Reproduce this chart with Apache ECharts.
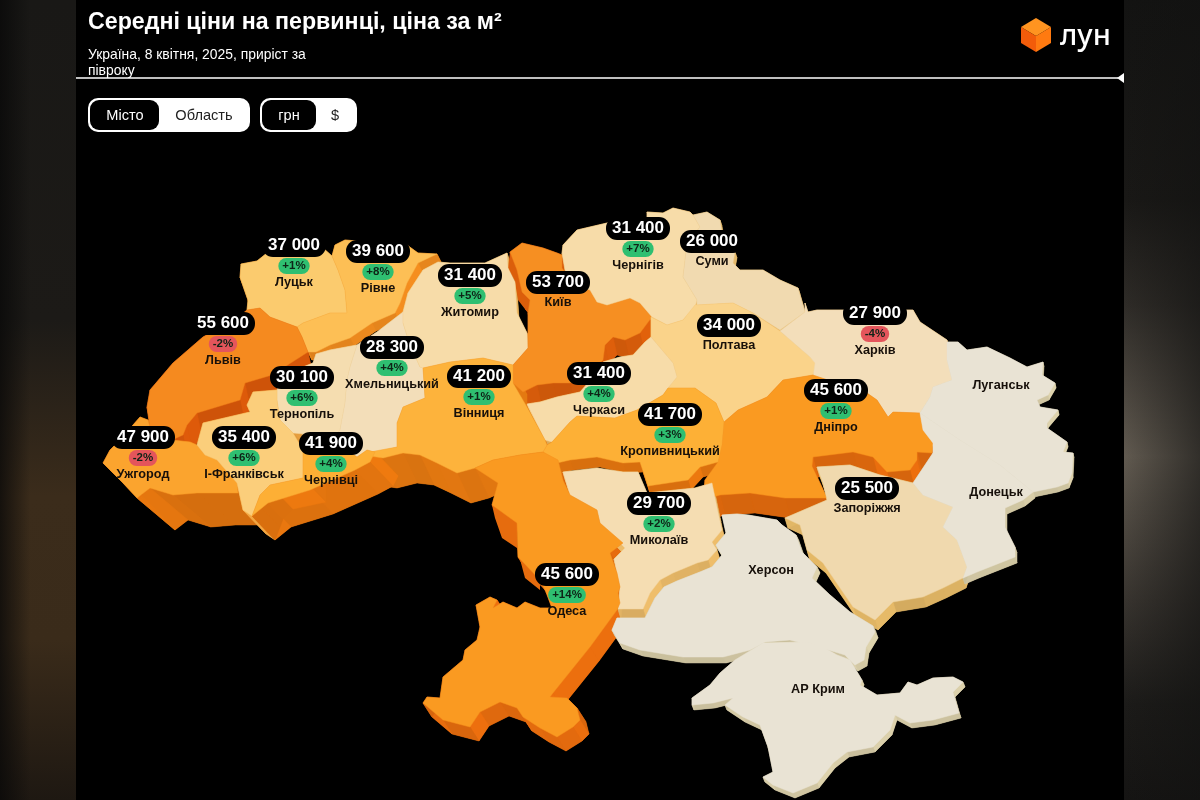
<!DOCTYPE html>
<html>
<head>
<meta charset="utf-8">
<style>html,body{margin:0;padding:0;background:#000}#chart{width:1200px;height:800px}</style>
<script src="https://cdn.jsdelivr.net/npm/echarts@6/dist/echarts.min.js"></script>
</head>
<body>
<div id="chart"></div>
<script>
// дані
const cities = ['Луцьк','Рівне','Львів','Тернопіль','Хмельницький','Житомир','Київ','Чернігів','Суми','Полтава','Харків','Дніпро','Черкаси','Кропивницький','Вінниця','Запоріжжя','Миколаїв','Одеса','Ужгород','І-Франківськ','Чернівці','Луганськ','Донецьк','Херсон','АР Крим'];
const prices = [37000,39600,55600,30100,28300,31400,53700,31400,26000,34000,27900,45600,31400,41700,41200,25500,29700,45600,47900,35400,41900,null,null,null,null];
const changes = [1,8,-2,6,4,5,null,7,null,null,-4,1,4,3,1,null,2,14,-2,6,4,null,null,null,null];

// контури областей, координати картинки
const shapes = {
  'Луцьк': [[241,264],[257,261],[267,253],[323,248],[332,256],[338,270],[345,290],[347,313],[330,313],[303,323],[297,327],[270,317],[260,308],[247,310],[248,300],[240,277]],
  'Рівне': [[335,245],[345,240],[407,245],[418,253],[437,254],[418,263],[407,283],[400,303],[395,313],[372,323],[350,338],[330,345],[316,352],[308,352],[302,337],[297,327],[303,323],[330,313],[347,313],[345,290],[338,270],[332,256]],
  'Львів': [[247,310],[260,308],[270,317],[297,327],[302,337],[308,352],[272,375],[245,383],[240,400],[197,413],[187,425],[183,435],[172,440],[150,428],[147,407],[150,390],[173,363],[203,337],[235,320]],
  'Тернопіль': [[277,390],[283,375],[313,363],[316,354],[330,350],[357,345],[350,367],[347,380],[345,403],[340,430],[335,437],[293,433],[280,420],[277,400]],
  'Хмельницький': [[357,345],[377,332],[403,312],[403,323],[410,345],[420,367],[423,368],[425,398],[403,407],[397,423],[397,447],[375,452],[367,450],[357,457],[340,445],[335,437],[340,430],[345,403],[347,380],[350,367]],
  'Житомир': [[438,262],[423,270],[408,293],[403,312],[403,323],[410,345],[420,367],[423,368],[450,362],[483,358],[513,365],[528,348],[527,333],[517,313],[515,282],[508,268],[507,253],[485,263],[450,263]],
  'Київ': [[510,252],[522,243],[543,248],[557,253],[562,255],[562,268],[575,285],[590,290],[597,302],[607,305],[630,298],[640,303],[652,317],[640,333],[625,340],[613,337],[605,345],[603,360],[585,378],[570,383],[553,383],[537,385],[523,392],[513,383],[513,365],[528,348],[528,313],[530,300],[522,292],[517,270]],
  'Чернігів': [[562,253],[563,245],[577,230],[607,223],[647,218],[647,212],[663,213],[673,208],[690,212],[693,215],[700,227],[687,243],[685,260],[683,277],[697,300],[695,307],[683,320],[667,325],[652,317],[640,303],[630,298],[607,305],[597,302],[590,290],[575,285],[565,270]],
  'Суми': [[693,215],[707,212],[720,220],[722,232],[735,252],[733,263],[740,270],[763,270],[780,280],[798,288],[805,312],[780,330],[753,313],[733,303],[697,305],[697,300],[683,277],[685,260],[687,243],[700,227]],
  'Полтава': [[651,317],[667,325],[683,320],[695,305],[733,303],[753,313],[780,331],[810,357],[817,363],[813,375],[783,380],[767,397],[738,410],[724,422],[716,403],[695,388],[668,388],[677,377],[673,363],[651,337]],
  'Харків': [[805,303],[808,312],[817,310],[913,310],[920,322],[947,340],[947,360],[952,380],[933,387],[930,397],[920,413],[893,412],[888,417],[877,400],[867,393],[813,377],[815,363],[810,357],[780,331],[805,312]],
  'Дніпро': [[767,397],[783,380],[813,375],[867,393],[877,400],[888,417],[893,412],[920,413],[923,430],[933,443],[932,453],[917,452],[917,460],[910,470],[887,472],[873,457],[853,452],[813,457],[812,466],[827,498],[785,498],[750,493],[720,495],[703,500],[705,480],[718,462],[722,445],[724,422],[738,410]],
  'Черкаси': [[527,404],[540,402],[557,397],[580,392],[595,375],[603,362],[620,357],[633,355],[645,342],[651,337],[673,363],[677,377],[668,388],[663,395],[637,410],[615,418],[577,416],[570,422],[552,442],[545,440]],
  'Кропивницький': [[547,445],[552,442],[570,422],[577,416],[615,418],[637,410],[663,395],[668,388],[695,388],[716,403],[724,422],[722,445],[718,462],[700,467],[688,480],[648,486],[640,462],[623,463],[597,457],[570,460],[557,463],[543,452]],
  'Вінниця': [[370,452],[397,447],[397,423],[403,407],[425,398],[423,368],[450,362],[483,358],[513,365],[513,383],[527,407],[545,440],[547,445],[543,452],[520,455],[493,460],[475,468],[457,473],[437,463],[420,455],[403,453],[383,458],[370,456]],
  'Запоріжжя': [[817,467],[850,465],[880,475],[913,483],[923,495],[953,507],[943,527],[957,540],[967,567],[963,578],[943,588],[923,597],[893,602],[885,610],[875,620],[853,607],[823,563],[807,550],[800,525],[785,518],[827,500],[823,483]],
  'Миколаїв': [[563,472],[597,468],[623,472],[638,472],[647,493],[695,488],[712,483],[718,512],[722,530],[712,542],[717,550],[708,560],[697,563],[673,573],[660,580],[650,593],[643,609],[618,609],[620,587],[617,573],[614,559],[625,548],[600,523],[597,510],[570,495]],
  'Одеса': [[475,468],[493,460],[520,455],[543,452],[558,460],[563,480],[570,495],[597,510],[600,523],[623,543],[610,553],[617,573],[620,587],[618,593],[620,603],[617,610],[590,647],[553,693],[550,697],[567,698],[577,708],[580,720],[573,727],[557,737],[540,728],[523,717],[517,708],[500,702],[480,712],[470,727],[443,720],[423,703],[427,697],[440,698],[443,677],[463,660],[465,650],[477,640],[480,627],[476,605],[490,597],[497,600],[493,608],[503,602],[517,608],[525,602],[540,608],[552,608],[546,592],[540,580],[518,557],[517,523],[492,505],[498,483]],
  'Ужгород': [[133,425],[140,417],[148,420],[150,428],[172,440],[190,442],[197,445],[205,455],[217,460],[237,483],[238,493],[197,493],[173,495],[150,488],[137,498],[123,483],[110,470],[103,463],[110,450],[125,435]],
  'І-Франківськ': [[253,392],[277,390],[277,400],[280,420],[293,433],[303,450],[303,478],[270,485],[260,495],[257,503],[252,516],[243,510],[237,483],[217,460],[205,455],[197,445],[203,423],[250,412],[247,405]],
  'Чернівці': [[303,450],[335,437],[340,445],[357,457],[367,450],[375,452],[370,462],[355,470],[310,490],[268,503],[252,516],[257,503],[260,495],[270,485],[303,478]],
  'Луганськ': [[947,342],[958,342],[967,350],[987,347],[1010,358],[1027,367],[1043,362],[1042,375],[1055,383],[1048,395],[1037,400],[1040,407],[1058,410],[1047,423],[1047,428],[1067,442],[1063,452],[1073,453],[1072,473],[1068,483],[1057,487],[1033,492],[1000,465],[960,440],[920,413],[930,397],[933,387],[952,380],[947,360]],
  'Донецьк': [[920,413],[960,440],[1000,465],[1033,492],[1023,500],[1005,508],[1005,527],[1015,547],[1015,557],[977,572],[963,578],[967,567],[957,540],[943,527],[953,507],[923,495],[913,483],[933,453],[933,443],[923,430]],
  'Херсон': [[722,515],[737,514],[748,515],[777,520],[782,525],[796,535],[802,552],[817,567],[812,578],[830,595],[850,612],[873,626],[875,632],[866,647],[864,660],[855,665],[845,655],[822,648],[790,640],[765,642],[750,650],[723,657],[683,657],[640,650],[620,643],[612,630],[617,618],[645,618],[655,598],[664,587],[677,581],[700,572],[712,567],[722,555],[716,545],[726,533]],
  'АР Крим': [[735,660],[763,643],[807,642],[823,647],[837,655],[850,660],[862,680],[860,685],[877,695],[900,693],[908,682],[917,685],[933,678],[953,677],[963,682],[953,692],[959,713],[933,720],[910,723],[895,715],[890,730],[873,747],[847,752],[833,763],[817,783],[793,793],[773,785],[763,777],[773,772],[768,747],[760,725],[743,717],[725,705],[733,698],[713,703],[692,705],[692,698],[710,685],[720,673]]
};

// висота бічних стінок для кожної області
const wallShift = {
  'Луцьк':[2,6],'Рівне':[4,8],'Львів':[5,24],'Тернопіль':[2,5],'Хмельницький':[2,5],'Житомир':[2,6],'Київ':[4,18],'Чернігів':[2,6],'Суми':[2,6],'Полтава':[3,8],'Харків':[2,10],'Дніпро':[5,20],'Черкаси':[3,8],'Кропивницький':[3,10],'Вінниця':[14,30],'Запоріжжя':[3,10],'Миколаїв':[3,10],'Одеса':[9,14],'Ужгород':[38,32],'І-Франківськ':[23,24],'Чернівці':[23,24],'Луганськ':[1,5],'Донецьк':[2,6],'Херсон':[3,6],'АР Крим':[2,5]
};
// шматки стінок, що видно зліва
const extraWalls = [
  ['Одеса', [[492,505],[517,523],[518,557],[540,580],[540,590],[525,578],[517,548],[502,538],[495,518]]],
  ['Київ', [[510,252],[517,270],[522,292],[530,300],[528,313],[518,300],[515,282],[508,268]]]
];

// координати підписів
const labelPoints = [[294,233],[378,239],[223,311],[302,365],[392,335],[470,263],[558,270],[638,216],[712,229],[729,313],[875,301],[836,378],[599,361],[670,402],[479,364],[867,476],[659,491],[567,562],[143,425],[244,425],[331,431],[1001,377],[996,484],[771,562],[818,681]];

const priceStops = [25500,28000,31400,35000,37000,39600,41500,45600,48000,55000];
const topStops = ['#F0D9AE','#F3DEBA','#F7DCA9','#FBCF7E','#FBCB6E','#FDBF55','#FDB137','#FA9A21','#FBA42F','#F58A1F'];
const wallStops = ['#E3B766','#E7BD72','#EAB55E','#F0A845','#EF9A2F','#EE8A1E','#E8780F','#E66C0E','#E5760F','#D9580A'];
const emptyTop = '#E9E3D4', emptyWall = '#D8CDA8';

function rgb(hex) { return [1,3,5].map(i => parseInt(hex.substr(i,2),16)); }
function mix(a, b, t) {
  const x = rgb(a), y = rgb(b);
  return 'rgb(' + x.map((v,i) => Math.round(v + (y[i]-v)*t)).join(',') + ')';
}
function byPrice(price, stops) {
  for (let i = 0; i < priceStops.length-1; i++) {
    if (price <= priceStops[i+1]) {
      return mix(stops[i], stops[i+1], Math.max(0,(price-priceStops[i])/(priceStops[i+1]-priceStops[i])));
    }
  }
  return stops[stops.length-1];
}
function topColor(i) { return prices[i] == null ? emptyTop : byPrice(prices[i], topStops); }
function wallColor(i) { return prices[i] == null ? emptyWall : byPrice(prices[i], wallStops); }
function shade(color, f) {
  const c = color[0]=='#' ? rgb(color) : color.match(/\d+/g).map(Number);
  return 'rgb(' + c.map(v => Math.min(255,Math.round(v*f))).join(',') + ')';
}
function rgb2hex(c) {
  if (c[0]=='#') return c;
  return '#' + c.match(/\d+/g).map(v => (+v).toString(16).padStart(2,'0')).join('');
}
function edgeColor(i) {
  return prices[i] == null ? emptyTop : mix(rgb2hex(topColor(i)), rgb2hex(wallColor(i)), 0.25);
}

echarts.registerMap('ua', {
  type: 'FeatureCollection',
  features: cities.map(name => ({
    type: 'Feature',
    properties: { name: name },
    geometry: { type: 'Polygon', coordinates: [shapes[name].concat([shapes[name][0]])] }
  }))
});

// межі контурів, щоб карта лягла 1 в 1
let allPts = [].concat(...cities.map(n => shapes[n]));
let minX = Math.min(...allPts.map(p => p[0])), maxX = Math.max(...allPts.map(p => p[0]));
let minY = Math.min(...allPts.map(p => p[1])), maxY = Math.max(...allPts.map(p => p[1]));

function renderWall(params, api) {
  const i = api.value(2);
  const name = cities[i];
  const pts = shapes[name];
  const d = wallShift[name];
  const base = wallColor(i);
  let children = [{
    type: 'polygon',
    shape: { points: pts.map(p => api.coord([p[0]+d[0], p[1]+d[1]])) },
    style: { fill: base }
  }];
  for (let k = 0; k < pts.length; k++) {
    const a = pts[k], b = pts[(k+1)%pts.length];
    const ang = Math.atan2(b[1]-a[1], b[0]-a[0]);
    const c = shade(base, 0.98 + 0.05*Math.cos(3*ang));
    children.push({
      type: 'polygon',
      shape: { points: [a, b, [b[0]+d[0],b[1]+d[1]], [a[0]+d[0],a[1]+d[1]]].map(p => api.coord(p)) },
      style: { fill: c, stroke: c, lineWidth: 0.5 }
    });
  }
  extraWalls.filter(w => w[0] == name).forEach(w => {
    children.push({
      type: 'polygon',
      shape: { points: w[1].map(p => api.coord(p)) },
      style: { fill: base }
    });
  });
  return { type: 'group', children: children };
}

function labelText(i) {
  let rows = [];
  if (prices[i] != null) rows.push('{price|' + String(prices[i]).replace(/(\d)(\d{3})$/, '$1 $2') + '}');
  if (changes[i] != null) rows.push((changes[i] > 0 ? '{up|+' : '{down|') + changes[i] + '%}');
  rows.push('{city|' + cities[i] + '}');
  return rows.join('\n');
}

// стінка Одеси йде першою, бо Миколаїв стоїть поверх неї
const wallOrder = cities.map((n,i) => i).sort((a,b) => (cities[b]=='Одеса') - (cities[a]=='Одеса'));

const fontName = '"Liberation Sans", Arial, sans-serif';
const chipStyle = { color: '#0e2417', fontFamily: fontName, fontWeight: 'bold', fontSize: 11.5, borderRadius: 8, padding: [2,4], lineHeight: 17 };

const chart = echarts.init(document.getElementById('chart'));
chart.setOption({
  backgroundColor: '#000',
  animation: false,
  title: {
    text: 'Середні ціни на первинці, ціна за м²',
    left: 88, top: 11, padding: 0,
    textStyle: { color: '#fff', fontFamily: fontName, fontWeight: 'bold', fontSize: 23.2 }
  },
  geo: {
    map: 'ua',
    roam: false,
    silent: true,
    z: 3,
    aspectScale: 1,
    projection: { project: p => p, unproject: p => p },
    left: minX, top: minY, width: maxX-minX, height: maxY-minY,
    label: { show: false },
    itemStyle: { areaColor: emptyTop, borderWidth: 0 },
    regions: cities.map((name,i) => ({
      name: name,
      itemStyle: { areaColor: topColor(i), borderColor: edgeColor(i), borderWidth: 0.5 }
    }))
  },
  series: [
    {
      type: 'custom',
      coordinateSystem: 'geo',
      geoIndex: 0,
      z: 1,
      silent: true,
      clip: false,
      renderItem: renderWall,
      data: wallOrder.map(i => [shapes[cities[i]][0][0], shapes[cities[i]][0][1], i])
    },
    {
      type: 'scatter',
      coordinateSystem: 'geo',
      geoIndex: 0,
      z: 10,
      silent: true,
      symbolSize: 1,
      itemStyle: { color: 'transparent', opacity: 1 },
      data: labelPoints.map((p,i) => ({ value: p, label: { formatter: labelText(i) } })),
      label: {
        show: true,
        opacity: 1,
        position: 'bottom',
        distance: 0,
        align: 'center',
        rich: {
          price: { color: '#fff', backgroundColor: '#000', fontFamily: fontName, fontWeight: 'bold', fontSize: 17, borderRadius: 11, padding: [3,6], lineHeight: 24 },
          up: Object.assign({ backgroundColor: '#2FBF71' }, chipStyle),
          down: Object.assign({ backgroundColor: '#E4555B' }, chipStyle),
          city: { color: '#17100a', fontFamily: fontName, fontWeight: 'bold', fontSize: 12.7, lineHeight: 15 }
        }
      }
    }
  ],
  graphic: [
    { type: 'rect', silent: true, shape: { x: 0, y: 0, width: 76, height: 800 },
      style: { fill: new echarts.graphic.LinearGradient(0,0,0,1,[{offset:0,color:'#191816'},{offset:0.4,color:'#1c1a17'},{offset:0.62,color:'#3b2c1b'},{offset:0.8,color:'#3a2b1a'},{offset:1,color:'#1e1812'}]) } },
    { type: 'rect', silent: true, shape: { x: 0, y: 0, width: 76, height: 800 },
      style: { fill: new echarts.graphic.LinearGradient(0,0,1,0,[{offset:0,color:'rgba(8,8,8,0.75)'},{offset:0.4,color:'rgba(8,8,8,0)'}]) } },
    { type: 'rect', silent: true, shape: { x: 1124, y: 0, width: 76, height: 800 },
      style: { fill: new echarts.graphic.LinearGradient(0,0,0,1,[{offset:0,color:'#131312'},{offset:0.25,color:'#191816'},{offset:0.38,color:'#2e2b27'},{offset:0.57,color:'#615a50'},{offset:0.75,color:'#38342f'},{offset:0.88,color:'#1c1b19'},{offset:1,color:'#151413'}]) } },
    { type: 'rect', silent: true, shape: { x: 1124, y: 0, width: 76, height: 800 },
      style: { fill: new echarts.graphic.LinearGradient(0,0,1,0,[{offset:0,color:'rgba(18,18,17,0)'},{offset:1,color:'rgba(18,18,17,0.6)'}]) } },
    // підзаголовок
    { type: 'text', silent: true, style: { x: 88, y: 48, text: 'Україна, 8 квітня, 2025, приріст за', fill: '#fff', font: '13.9px ' + fontName } },
    { type: 'text', silent: true, style: { x: 88, y: 64, text: 'півроку', fill: '#fff', font: '13.9px ' + fontName } },
    { type: 'line', silent: true, shape: { x1: 76, y1: 78, x2: 1118, y2: 78 }, style: { stroke: '#fff', lineWidth: 1.3 } },
    { type: 'polygon', silent: true, shape: { points: [[1117,78],[1124,73],[1124,83]] }, style: { fill: '#fff' } },
    // логотип
    { type: 'polygon', silent: true, shape: { points: [[1036,18],[1051,27],[1036,36],[1021,27]] }, style: { fill: '#FF9420' } },
    { type: 'polygon', silent: true, shape: { points: [[1021,27],[1036,36],[1036,52],[1021,43]] }, style: { fill: '#F25C0A' } },
    { type: 'polygon', silent: true, shape: { points: [[1051,27],[1036,36],[1036,52],[1051,43]] }, style: { fill: '#FF7A10' } },
    { type: 'text', silent: true, style: { x: 1060, y: 22, text: 'лун', fill: '#fff', font: '500 29px "Noto Sans", sans-serif' } },
    // перемикачі
    { type: 'rect', silent: true, shape: { x: 88, y: 98, width: 162, height: 34, r: 10 }, style: { fill: '#fff' } },
    { type: 'rect', silent: true, shape: { x: 90, y: 100, width: 69, height: 30, r: 9 }, style: { fill: '#000' } },
    { type: 'text', silent: true, style: { x: 125, y: 116, text: 'Місто', fill: '#fff', font: '14.6px ' + fontName, align: 'center', verticalAlign: 'middle' } },
    { type: 'text', silent: true, style: { x: 204, y: 116, text: 'Область', fill: '#222', font: '14.6px ' + fontName, align: 'center', verticalAlign: 'middle' } },
    { type: 'rect', silent: true, shape: { x: 260, y: 98, width: 97, height: 34, r: 10 }, style: { fill: '#fff' } },
    { type: 'rect', silent: true, shape: { x: 262, y: 100, width: 54, height: 30, r: 9 }, style: { fill: '#000' } },
    { type: 'text', silent: true, style: { x: 289, y: 116, text: 'грн', fill: '#fff', font: '14.6px ' + fontName, align: 'center', verticalAlign: 'middle' } },
    { type: 'text', silent: true, style: { x: 335, y: 116, text: '$', fill: '#222', font: '14.6px ' + fontName, align: 'center', verticalAlign: 'middle' } }
  ]
});
</script>
</body>
</html>
